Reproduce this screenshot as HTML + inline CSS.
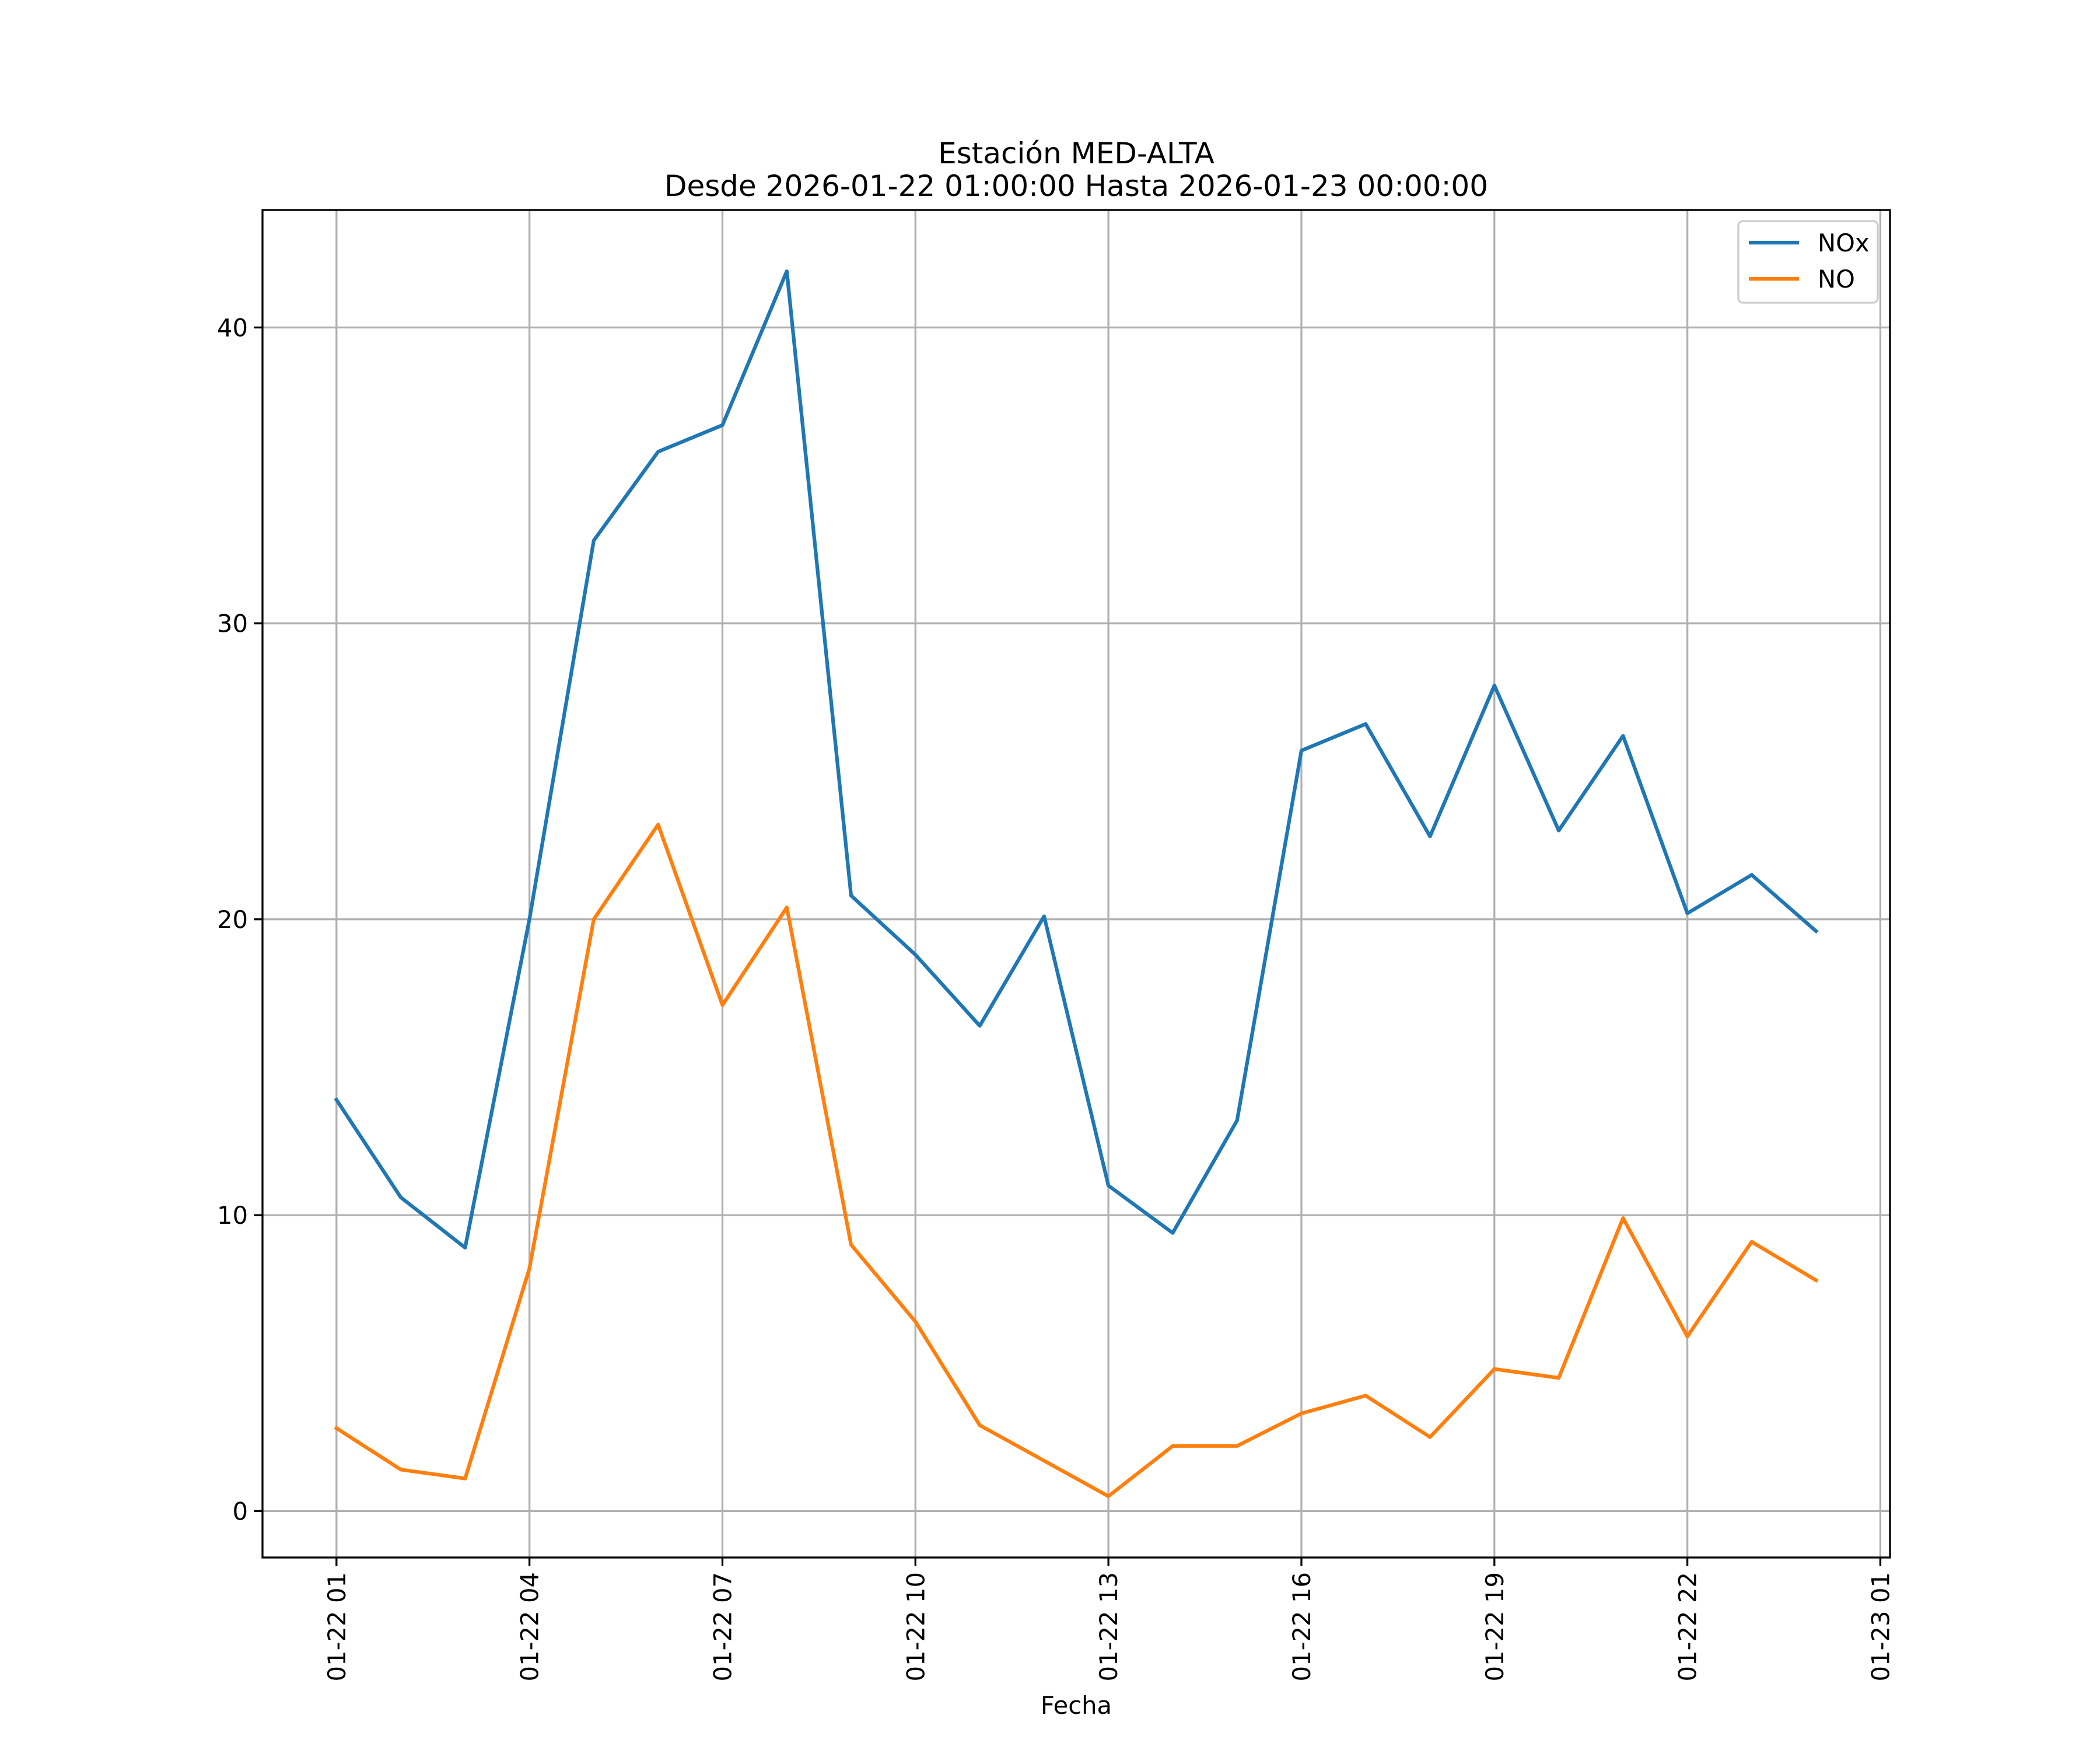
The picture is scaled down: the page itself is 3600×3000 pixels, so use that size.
<!DOCTYPE html>
<html><head><meta charset="utf-8"><style>
html,body{margin:0;padding:0;background:#fff}
svg{display:block;font-family:"DejaVu Sans","Liberation Sans",sans-serif}
</style></head><body>
<svg id="chart" width="3600" height="3000" viewBox="0 0 3600 3000">
<rect width="3600" height="3000" fill="#fff"/>
<text x="1845" y="280" font-size="50" text-anchor="middle">Estación MED-ALTA</text>
<text x="1845" y="336" font-size="50" text-anchor="middle">Desde 2026-01-22 01:00:00 Hasta 2026-01-23 00:00:00</text>
<g id="grid"></g>
<g id="series"></g>
<rect x="450" y="360" width="2790" height="2310" fill="none" stroke="#000" stroke-width="3.3"/>
<g id="axes"></g>
<text x="1845" y="2938" font-size="41.7" text-anchor="middle">Fecha</text>
<g>
<rect x="2980" y="379" width="239" height="140" rx="8" fill="#fff" fill-opacity="0.8" stroke="#ccc" stroke-width="3.3"/>
<line x1="2998" y1="416" x2="3084" y2="416" stroke="#1f77b4" stroke-width="6.25"/>
<text x="3116" y="431" font-size="41.7">NOx</text>
<line x1="2998" y1="478" x2="3084" y2="478" stroke="#ff7f0e" stroke-width="6.25"/>
<text x="3116" y="493" font-size="41.7">NO</text>
</g>
</svg>
<script>
const hours = [1,2,3,4,5,6,7,8,9,10,11,12,13,14,15,16,17,18,19,20,21,22,23,24];
const noxValues = [13.9,10.6,8.9,20.0,32.8,35.8,36.7,41.9,20.8,18.8,16.4,20.1,11.0,9.4,13.2,25.7,26.6,22.8,27.9,23.0,26.2,20.2,21.5,19.6];
const noValues = [2.8,1.4,1.1,8.2,20.0,23.2,17.1,20.4,9.0,6.4,2.9,1.7,0.5,2.2,2.2,3.3,3.9,2.5,4.8,4.5,9.9,5.9,9.1,7.8];
const yTicks = [0,10,20,30,40];
const xTickHours = [1,4,7,10,13,16,19,22,25];
const xTickLabels = ["01-22 01","01-22 04","01-22 07","01-22 10","01-22 13","01-22 16","01-22 19","01-22 22","01-23 01"];

const NS="http://www.w3.org/2000/svg";
const L=450,R=3240,T=360,B=2670;
const allV=noxValues.concat(noValues);
const vmin=Math.min(...allV), vmax=Math.max(...allV), vr=vmax-vmin;
const y0=vmin-0.05*vr, y1=vmax+0.05*vr;
const h0=hours[0], h1=hours[hours.length-1], hr=h1-h0;
const x0=h0-0.05*hr, x1=h1+0.05*hr;
function xs(h){return L+(h-x0)/(x1-x0)*(R-L);}
function ys(v){return B-(v-y0)/(y1-y0)*(B-T);}
function mk(tag,attrs,parent){const e=document.createElementNS(NS,tag);for(const k in attrs)e.setAttribute(k,attrs[k]);parent.appendChild(e);return e;}
const grid=document.getElementById('grid'),axes=document.getElementById('axes'),series=document.getElementById('series');
yTicks.forEach(v=>{
  const y=ys(v);
  const g=mk('line',{x1:L,x2:R,y1:y,y2:y,stroke:'#b0b0b0','stroke-width':3.3},grid);
  
  
  const t=mk('line',{x1:L-14.6,x2:L,y1:y,y2:y,stroke:'#000','stroke-width':3.3},axes);
  
  
  const lb=mk('text',{x:L-25,y:y+15,'font-size':41.7,'text-anchor':'end'},axes);
  lb.textContent=v;
  
  
});
xTickHours.forEach((h,i)=>{
  const x=xs(h);
  const g=mk('line',{x1:x,x2:x,y1:T,y2:B,stroke:'#b0b0b0','stroke-width':3.3},grid);
  
  
  const t=mk('line',{x1:x,x2:x,y1:B,y2:B+14.6,stroke:'#000','stroke-width':3.3},axes);
  
  
  const lb=mk('text',{x:0,y:0,'font-size':41.7,'text-anchor':'end',transform:`translate(${x+15},${B+25}) rotate(-90)`},axes);
  lb.textContent=xTickLabels[i];
  
  
});
function drawLine(vals,color,name){
  const pts=vals.map((v,i)=>xs(hours[i]).toFixed(1)+','+ys(v).toFixed(1)).join(' ');
  const p=mk('polyline',{points:pts,fill:'none',stroke:color,'stroke-width':6.25,'stroke-linejoin':'round','stroke-linecap':'square'},series);
  
  
}
drawLine(noxValues,'#1f77b4','nox-line');
drawLine(noValues,'#ff7f0e','no-line');
</script>
</body></html>
